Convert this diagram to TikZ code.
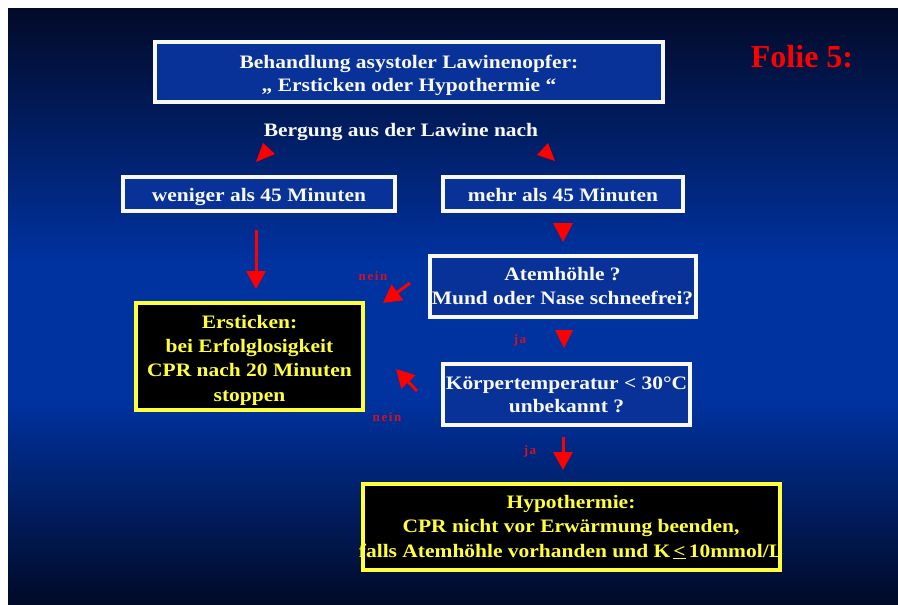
\documentclass[tikz,border=0pt]{standalone}
\usepackage{fontspec}
\setmainfont{Liberation Serif}[FakeStretch=1.13]
\newfontfamily\foliefont{Liberation Serif}
\newfontfamily\labfont{Liberation Serif}[LetterSpace=12]
\usetikzlibrary{arrows.meta}
\definecolor{bgtop}{RGB}{2,10,40}
\definecolor{bgmid}{RGB}{0,50,160}
\definecolor{bgbot}{RGB}{1,10,38}
\definecolor{boxblue}{RGB}{8,50,152}
\definecolor{txtwhite}{RGB}{248,248,244}
\definecolor{arrowred}{RGB}{255,0,0}
\definecolor{yel}{RGB}{255,255,60}
\definecolor{labred}{RGB}{205,20,40}
% lower the printed lines by #1 inside a centred node
\newcommand\lowlines[2]{\raisebox{0pt}[\dimexpr\height+#1\relax][\dimexpr\depth-#1\relax]{\begin{tabular}{@{}c@{}}#2\end{tabular}}}
\begin{document}
\begin{tikzpicture}[x=1pt,y=-1pt,
  wbox/.style={draw=txtwhite, line width=4pt, fill=boxblue, text=txtwhite, inner sep=0pt, font=\bfseries\fontsize{19}{23.5}\selectfont},
  ybox/.style={draw=yel, line width=4pt, fill=black, text=yel, inner sep=0pt, font=\bfseries\fontsize{19}{24.2}\selectfont},
  rarrow/.style={draw=arrowred, line width=3pt, -{Triangle[width=19pt,length=18pt]}},
  tri/.style={fill=arrowred},
  lab/.style={text=labred, inner sep=0pt, font=\labfont\bfseries\fontsize{13}{15}\selectfont},
  plain/.style={text=txtwhite, inner sep=0pt, font=\bfseries\fontsize{19}{23.5}\selectfont},
]
\useasboundingbox (0,0) rectangle (898,605);
\fill[white] (0,0) rectangle (898,605);
\begin{scope}[y=1pt]
\shade[top color=bgtop, bottom color=bgmid] (8,-8) rectangle (898,-262);
\fill[bgmid] (8,-261) rectangle (898,-401);
\shade[top color=bgmid, bottom color=bgbot] (8,-400) rectangle (898,-605);
\end{scope}

\node[wbox, minimum width=508pt, minimum height=60pt] (title) at (409,72)
  {\lowlines{3.5pt}{Behandlung asystoler Lawinenopfer:\\„ Ersticken oder Hypothermie “}};
\node[text=arrowred, inner sep=0pt, font=\foliefont\bfseries\fontsize{32}{38}\selectfont] (folie) at (802,57) {Folie 5:};
\node[plain] (bergung) at (401,132) {Bergung aus der Lawine nach};

\node[wbox, minimum width=272pt, minimum height=34pt] (wen) at (259,194) {\lowlines{2.5pt}{weniger als 45 Minuten}};
\node[wbox, minimum width=240pt, minimum height=34pt] (mehr) at (563,194) {\lowlines{2.5pt}{mehr als 45 Minuten}};
\node[wbox, minimum width=266pt, minimum height=61pt] (atem) at (562.5,286)
  {\lowlines{2pt}{Atemhöhle ?\\\makebox[0pt][c]{Mund oder Nase schneefrei?}}};
\node[wbox, minimum width=247pt, minimum height=61pt] (koerp) at (566.5,394)
  {\lowlines{2.5pt}{Körpertemperatur < 30°C\\unbekannt ?}};
\node[ybox, minimum width=227pt, minimum height=107pt] (erst) at (249.5,356.5)
  {\lowlines{3.5pt}{Ersticken:\\bei Erfolglosigkeit\\CPR nach 20 Minuten\\stoppen}};
\node[ybox, minimum width=417pt, minimum height=86pt] (hypo) at (571,527)
  {\lowlines{1pt}{Hypothermie:\\CPR nicht vor Erwärmung beenden,\\\makebox[0pt][c]{falls Atemhöhle vorhanden und K\,\underline{<}\,10mmol/L}}};

% shaftless arrow heads
\fill[tri] (263,143) -- (256,162) -- (275,154) -- cycle;
\fill[tri] (548,143) -- (537,155) -- (555,161) -- cycle;
\fill[tri] (553,223) -- (573,223) -- (563,242) -- cycle;
\fill[tri] (555,330) -- (573,330) -- (564,348) -- cycle;

% arrows
\coordinate (a1s) at (256,230);
\coordinate (a1e) at (256,289);
\draw[rarrow] (a1s) -- (a1e);
\coordinate (a2s) at (410,283);
\coordinate (a2e) at (383,303);
\draw[rarrow] (a2s) -- (a2e);
\coordinate (a3s) at (417,391);
\coordinate (a3e) at (396,369);
\draw[rarrow] (a3s) -- (a3e);
\coordinate (a4s) at (563,437);
\coordinate (a4e) at (563,470);
\draw[rarrow] (a4s) -- (a4e);

\node[lab] (nein1) at (373,276) {nein};
\node[lab] (nein2) at (387,417) {nein};
\node[lab] (ja1) at (520,340) {ja};
\node[lab] (ja2) at (530,451) {ja};
\end{tikzpicture}
\end{document}
